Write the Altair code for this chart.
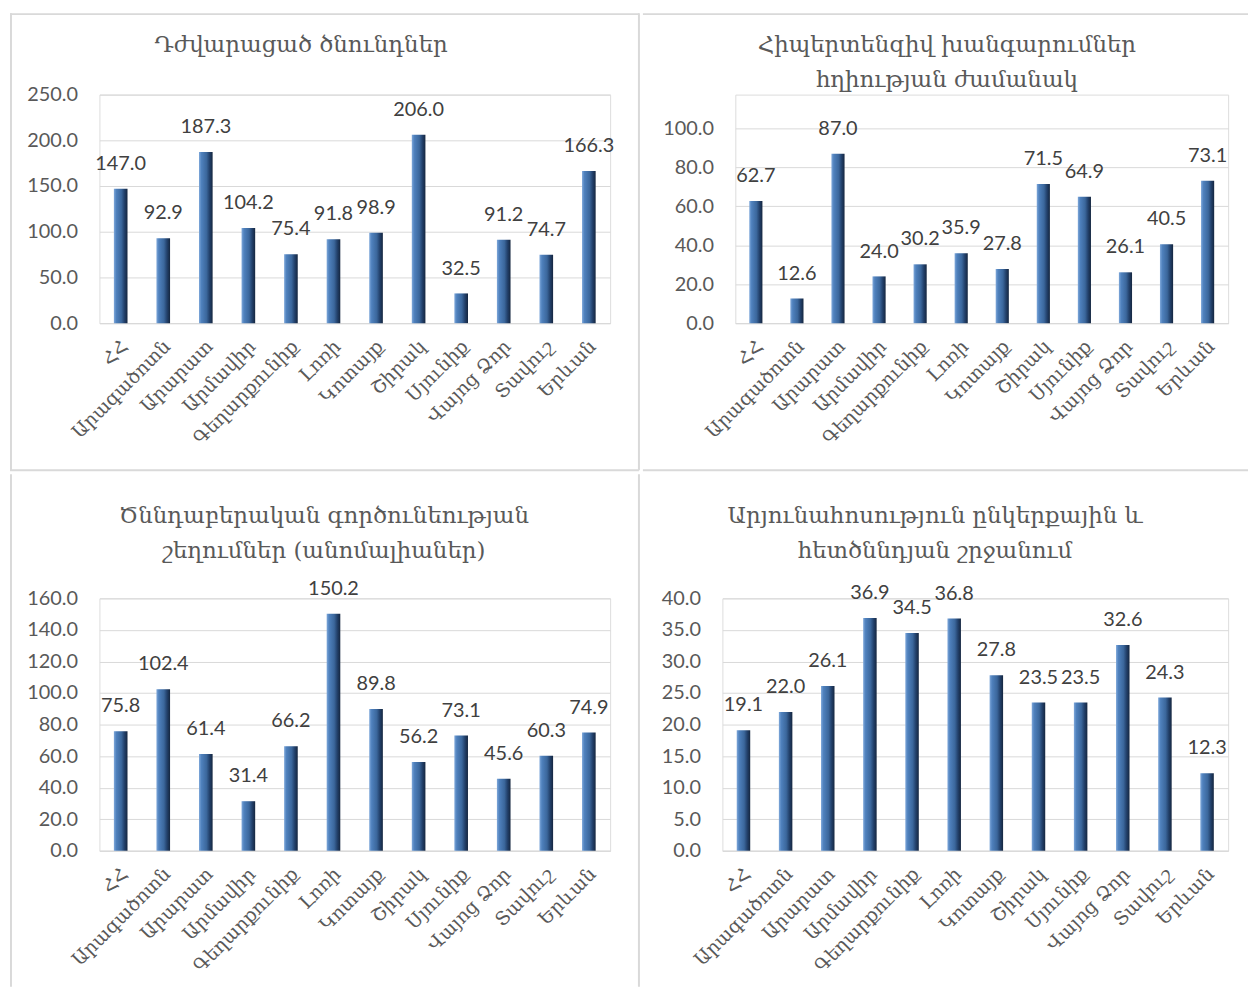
import altair as alt
import pandas as pd

regions = ["ՀՀ", "Արագածոտն", "Արարատ", "Արմավիր", "Գեղարքունիք", "Լոռի",
           "Կոտայք", "Շիրակ", "Սյունիք", "Վայոց Ձոր", "Տավուշ", "Երևան"]

difficult_births = [147.0, 92.9, 187.3, 104.2, 75.4, 91.8, 98.9, 206.0, 32.5, 91.2, 74.7, 166.3]
hypertensive = [62.7, 12.6, 87.0, 24.0, 30.2, 35.9, 27.8, 71.5, 64.9, 26.1, 40.5, 73.1]
labor_anomalies = [75.8, 102.4, 61.4, 31.4, 66.2, 150.2, 89.8, 56.2, 73.1, 45.6, 60.3, 74.9]
hemorrhage = [19.1, 22.0, 26.1, 36.9, 34.5, 36.8, 27.8, 23.5, 23.5, 32.6, 24.3, 12.3]

title1 = ["Դժվարացած ծնունդներ"]
title2 = ["Հիպերտենզիվ խանգարումներ", "հղիության ժամանակ"]
title3 = ["Ծննդաբերական գործունեության", "շեղումներ (անոմալիաներ)"]
title4 = ["Արյունահոսություն ընկերքային և", "հետծննդյան շրջանում"]

ticks1 = [0, 50, 100, 150, 200, 250]
ticks2 = [0, 20, 40, 60, 80, 100]
ticks3 = [0, 20, 40, 60, 80, 100, 120, 140, 160]
ticks4 = [0, 5, 10, 15, 20, 25, 30, 35, 40]

ARM_FONT = "DejaVu Serif"
NUM_FONT = "Lato"
GRAY = "#595959"
LINE = "#D9D9D9"

grad = alt.Gradient(
    gradient="linear",
    stops=[
        alt.GradientStop(color="#7FA8DA", offset=0),
        alt.GradientStop(color="#4F81BD", offset=0.18),
        alt.GradientStop(color="#3B679C", offset=0.55),
        alt.GradientStop(color="#22406A", offset=0.78),
        alt.GradientStop(color="#15263F", offset=1),
    ],
    x1=0, x2=1, y1=0, y2=0,
)


def one():
    return alt.Data(values=[{"k": 0}])


def panel(values, title_lines, ticks, dmax, w, h, tx, ty, box, rules):
    df = pd.DataFrame({"region": regions, "value": values})
    base = alt.Chart(df)
    x = alt.X(
        "region:N", sort=regions, title=None,
        scale=alt.Scale(paddingInner=0.68, paddingOuter=0.34),
        axis=alt.Axis(labelAngle=-45, labelAlign="right", labelBaseline="middle",
                      labelFont=ARM_FONT, labelFontSize=19, labelColor=GRAY,
                      labelPadding=20, labelOffset=4, labelLimit=400, labelOverlap=False,
                      ticks=False, domainColor=LINE, domainWidth=1, grid=False),
    )
    y = alt.Y(
        "value:Q", title=None,
        scale=alt.Scale(domain=[0, dmax], nice=False, zero=True),
        axis=alt.Axis(values=ticks, format=".1f", labelFont=NUM_FONT, labelFontSize=20,
                      labelColor=GRAY, labelPadding=22, domain=False, ticks=False,
                      grid=True, gridColor=LINE, gridWidth=1),
    )
    bars = base.mark_bar(color=grad).encode(x=x, y=y)
    labels = base.mark_text(font=NUM_FONT, fontSize=20, color="#404040",
                            baseline="alphabetic", dy=-19).encode(
        x=x, y=y, text=alt.Text("value:Q", format=".1f"))
    frame = alt.Chart(one()).mark_rect(color="white", opacity=0).encode(
        x=alt.value(box[0]), x2=alt.value(box[1]), y=alt.value(box[2]), y2=alt.value(box[3]))
    ttl = alt.Chart(one()).mark_text(font=ARM_FONT, fontSize=23, color=GRAY,
                                     lineHeight=35, baseline="middle", align="center").encode(
        x=alt.value(tx), y=alt.value(ty), text=alt.value(title_lines))
    layers = [frame, bars, labels, ttl]
    for r in rules:
        if r[0] == "v":
            layers.append(alt.Chart(one()).mark_rule(color=LINE, strokeWidth=2).encode(
                x=alt.value(r[1]), y=alt.value(r[2]), y2=alt.value(r[3])))
        else:
            layers.append(alt.Chart(one()).mark_rule(color=LINE, strokeWidth=2).encode(
                y=alt.value(r[1]), x=alt.value(r[2]), x2=alt.value(r[3])))
    return alt.layer(*layers).properties(width=w, height=h)


# panel 1: plot origin (98,95), 514x230
p1 = panel(difficult_births, title1, ticks1, 250, 514, 230, 203, -50,
           (-90, 543, -82, 378),
           [("v", -89, -82, 378), ("h", -81, -90, 543), ("v", 543, -82, 378), ("h", 378, -90, 543)])
# panel 2: plot origin (734,95), 496x230, 100 at 129
p2 = panel(hypertensive, title2, ticks2, 100 * 230 / 196, 496, 230, 213, -50,
           (-93, 516, -82, 378),
           [("h", -81, -93, 516), ("h", 378, -93, 516)])
# panel 3: plot origin (98,598), 514x254
p3 = panel(labor_anomalies, title3, ticks3, 160, 514, 254, 226, -83,
           (-90, 543, -125, 391),
           [("v", -89, -125, 391), ("v", 543, -125, 391)])
# panel 4: plot origin (722,598), 509x254
p4 = panel(hemorrhage, title4, ticks4, 40, 509, 254, 214, -83,
           (-81, 528, -125, 391), [])

chart = alt.vconcat(
    alt.hconcat(p1, p2, spacing=0),
    alt.hconcat(p3, p4, spacing=0),
    spacing=0,
).properties(padding=0).configure_view(stroke=None).configure(background="white")

chart.save("out.html", embed_options={"renderer": "svg", "actions": False})
